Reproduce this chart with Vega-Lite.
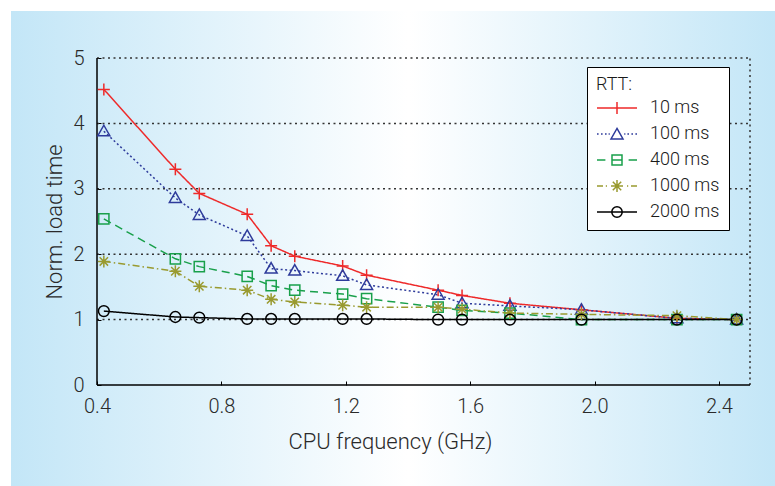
{
  "$schema": "https://vega.github.io/schema/vega-lite/v6.json",
  "width": 764,
  "height": 475,
  "autosize": {"type": "none"},
  "padding": {"left": 11, "top": 11, "right": 0, "bottom": 0},
  "background": "white",
  "view": {
    "stroke": null,
    "fill": {"gradient": "linear", "x1": 0, "y1": 0, "x2": 1, "y2": 0,
      "stops": [{"offset": 0, "color": "#c3e6f7"}, {"offset": 0.52, "color": "#ffffff"}, {"offset": 1, "color": "#c3e6f7"}]}
  },
  "config": {
    "font": "Roboto",
    "axis": {"labelFont": "Roboto", "labelFontWeight": 300, "labelFontSize": 20, "labelColor": "#2a2a2a", "titleFont": "Roboto", "titleFontWeight": 300, "titleFontSize": 22, "titleColor": "#2a2a2a"},
    "legend": {"labelFont": "Roboto", "labelFontWeight": 300, "titleFont": "Roboto", "titleFontWeight": 300}
  },
  "resolve": {"scale": {"shape": "independent", "color": "independent"}},
  "datasets": {
    "perf": [
      {"ghz": 0.422, "rtt": "10 ms", "t": 4.52}, {"ghz": 0.652, "rtt": "10 ms", "t": 3.30}, {"ghz": 0.729, "rtt": "10 ms", "t": 2.93}, {"ghz": 0.883, "rtt": "10 ms", "t": 2.61}, {"ghz": 0.960, "rtt": "10 ms", "t": 2.13}, {"ghz": 1.036, "rtt": "10 ms", "t": 1.97}, {"ghz": 1.190, "rtt": "10 ms", "t": 1.82}, {"ghz": 1.267, "rtt": "10 ms", "t": 1.68}, {"ghz": 1.497, "rtt": "10 ms", "t": 1.45}, {"ghz": 1.574, "rtt": "10 ms", "t": 1.37}, {"ghz": 1.728, "rtt": "10 ms", "t": 1.25}, {"ghz": 1.958, "rtt": "10 ms", "t": 1.15}, {"ghz": 2.265, "rtt": "10 ms", "t": 1.02}, {"ghz": 2.457, "rtt": "10 ms", "t": 1.00},
      {"ghz": 0.422, "rtt": "100 ms", "t": 3.88}, {"ghz": 0.652, "rtt": "100 ms", "t": 2.86}, {"ghz": 0.729, "rtt": "100 ms", "t": 2.60}, {"ghz": 0.883, "rtt": "100 ms", "t": 2.28}, {"ghz": 0.960, "rtt": "100 ms", "t": 1.78}, {"ghz": 1.036, "rtt": "100 ms", "t": 1.75}, {"ghz": 1.190, "rtt": "100 ms", "t": 1.67}, {"ghz": 1.267, "rtt": "100 ms", "t": 1.53}, {"ghz": 1.497, "rtt": "100 ms", "t": 1.38}, {"ghz": 1.574, "rtt": "100 ms", "t": 1.25}, {"ghz": 1.728, "rtt": "100 ms", "t": 1.21}, {"ghz": 1.958, "rtt": "100 ms", "t": 1.15}, {"ghz": 2.265, "rtt": "100 ms", "t": 1.02}, {"ghz": 2.457, "rtt": "100 ms", "t": 1.00},
      {"ghz": 0.422, "rtt": "400 ms", "t": 2.54}, {"ghz": 0.652, "rtt": "400 ms", "t": 1.93}, {"ghz": 0.729, "rtt": "400 ms", "t": 1.81}, {"ghz": 0.883, "rtt": "400 ms", "t": 1.66}, {"ghz": 0.960, "rtt": "400 ms", "t": 1.52}, {"ghz": 1.036, "rtt": "400 ms", "t": 1.45}, {"ghz": 1.190, "rtt": "400 ms", "t": 1.39}, {"ghz": 1.267, "rtt": "400 ms", "t": 1.32}, {"ghz": 1.497, "rtt": "400 ms", "t": 1.19}, {"ghz": 1.574, "rtt": "400 ms", "t": 1.14}, {"ghz": 1.728, "rtt": "400 ms", "t": 1.10}, {"ghz": 1.958, "rtt": "400 ms", "t": 1.00}, {"ghz": 2.265, "rtt": "400 ms", "t": 1.00}, {"ghz": 2.457, "rtt": "400 ms", "t": 1.00},
      {"ghz": 0.422, "rtt": "1000 ms", "t": 1.89}, {"ghz": 0.652, "rtt": "1000 ms", "t": 1.74}, {"ghz": 0.729, "rtt": "1000 ms", "t": 1.51}, {"ghz": 0.883, "rtt": "1000 ms", "t": 1.45}, {"ghz": 0.960, "rtt": "1000 ms", "t": 1.31}, {"ghz": 1.036, "rtt": "1000 ms", "t": 1.27}, {"ghz": 1.190, "rtt": "1000 ms", "t": 1.22}, {"ghz": 1.267, "rtt": "1000 ms", "t": 1.19}, {"ghz": 1.497, "rtt": "1000 ms", "t": 1.19}, {"ghz": 1.574, "rtt": "1000 ms", "t": 1.16}, {"ghz": 1.728, "rtt": "1000 ms", "t": 1.10}, {"ghz": 1.958, "rtt": "1000 ms", "t": 1.08}, {"ghz": 2.265, "rtt": "1000 ms", "t": 1.06}, {"ghz": 2.457, "rtt": "1000 ms", "t": 1.00},
      {"ghz": 0.422, "rtt": "2000 ms", "t": 1.13}, {"ghz": 0.652, "rtt": "2000 ms", "t": 1.04}, {"ghz": 0.729, "rtt": "2000 ms", "t": 1.03}, {"ghz": 0.883, "rtt": "2000 ms", "t": 1.01}, {"ghz": 0.960, "rtt": "2000 ms", "t": 1.01}, {"ghz": 1.036, "rtt": "2000 ms", "t": 1.01}, {"ghz": 1.190, "rtt": "2000 ms", "t": 1.01}, {"ghz": 1.267, "rtt": "2000 ms", "t": 1.01}, {"ghz": 1.497, "rtt": "2000 ms", "t": 1.00}, {"ghz": 1.574, "rtt": "2000 ms", "t": 1.00}, {"ghz": 1.728, "rtt": "2000 ms", "t": 1.00}, {"ghz": 1.958, "rtt": "2000 ms", "t": 1.00}, {"ghz": 2.265, "rtt": "2000 ms", "t": 1.00}, {"ghz": 2.457, "rtt": "2000 ms", "t": 1.00}
    ]
  },
  "layer": [
    {
      "data": {"values": [{"t": 1}, {"t": 2}, {"t": 3}, {"t": 4}, {"t": 5}]},
      "mark": {"type": "rule", "color": "#333333", "strokeDash": [2, 3.5], "strokeWidth": 1.5},
      "encoding": {
        "y": {"field": "t", "type": "quantitative", "scale": {"domain": [-1.5443, 5.7187], "nice": false, "zero": false}},
        "x": {"datum": 0.4, "type": "quantitative", "scale": {"domain": [0.12343, 2.5804], "nice": false, "zero": false}},
        "x2": {"datum": 2.5}
      }
    },
    {
      "data": {"values": [{}]},
      "mark": {"type": "rule", "color": "#333333", "strokeDash": [2, 3.5], "strokeWidth": 1.5},
      "encoding": {
        "x": {"datum": 2.5, "type": "quantitative", "scale": {"domain": [0.12343, 2.5804], "nice": false, "zero": false}},
        "y": {"datum": 0, "type": "quantitative", "scale": {"domain": [-1.5443, 5.7187], "nice": false, "zero": false}},
        "y2": {"datum": 5}
      }
    },
    {
      "data": {"values": [{}]},
      "mark": {"type": "rule", "color": "#000000", "strokeWidth": 1.5},
      "encoding": {
        "x": {"datum": 0.4, "type": "quantitative", "scale": {"domain": [0.12343, 2.5804], "nice": false, "zero": false}},
        "y": {"datum": 0, "type": "quantitative", "scale": {"domain": [-1.5443, 5.7187], "nice": false, "zero": false}},
        "y2": {"datum": 5}
      }
    },
    {
      "data": {"values": [{}]},
      "mark": {"type": "rule", "color": "#000000", "strokeWidth": 1.5},
      "encoding": {
        "y": {"datum": 0, "type": "quantitative", "scale": {"domain": [-1.5443, 5.7187], "nice": false, "zero": false}},
        "x": {"datum": 0.4, "type": "quantitative", "scale": {"domain": [0.12343, 2.5804], "nice": false, "zero": false}},
        "x2": {"datum": 2.5}
      }
    },
    {
      "data": {"name": "perf"},
      "mark": {"type": "line", "strokeWidth": 1.5},
      "encoding": {
        "x": {"field": "ghz", "type": "quantitative",
          "scale": {"domain": [0.12343, 2.5804], "nice": false, "zero": false},
          "axis": {"values": [0.4, 0.8, 1.2, 1.6, 2.0, 2.4], "format": ".1f", "offset": -101, "domain": false, "grid": false, "ticks": true, "tickSize": -4, "tickColor": "#000000", "tickWidth": 1, "labelPadding": 15, "labelFlush": false, "labelOverlap": false,
            "title": "CPU frequency (GHz)", "titleX": 379, "titleY": 56, "titleAlign": "center", "titleBaseline": "middle"}},
        "y": {"field": "t", "type": "quantitative",
          "scale": {"domain": [-1.5443, 5.7187], "nice": false, "zero": false},
          "axis": {"values": [0, 1, 2, 3, 4, 5], "format": "d", "offset": -86, "domain": false, "grid": false, "ticks": true, "tickSize": -4, "tickColor": "#000000", "tickWidth": 1, "labelPadding": 17, "labelFlush": false, "labelOverlap": false,
            "title": "Norm. load time", "titleX": -43, "titleY": 210.5, "titleAngle": -90, "titleAlign": "center", "titleBaseline": "middle"}},
        "color": {"field": "rtt", "type": "nominal",
          "scale": {"domain": ["10 ms", "100 ms", "400 ms", "1000 ms", "2000 ms"], "range": ["#ee2a2a", "#2e3b9b", "#19a04b", "#999a2f", "#000000"]},
          "legend": null},
        "strokeDash": {"field": "rtt", "type": "nominal",
          "scale": {"domain": ["10 ms", "100 ms", "400 ms", "1000 ms", "2000 ms"], "range": [[1, 0], [2, 2.5], [8, 5], [7, 3, 1.5, 3], [1, 0]]},
          "legend": null}
      }
    },
    {
      "data": {"name": "perf"},
      "mark": {"type": "point", "filled": false, "strokeWidth": 1.5, "size": 144, "opacity": 1},
      "encoding": {
        "x": {"field": "ghz", "type": "quantitative", "scale": {"domain": [0.12343, 2.5804], "nice": false, "zero": false}},
        "y": {"field": "t", "type": "quantitative", "scale": {"domain": [-1.5443, 5.7187], "nice": false, "zero": false}},
        "color": {"field": "rtt", "type": "nominal", "scale": {"domain": ["10 ms", "100 ms", "400 ms", "1000 ms", "2000 ms"], "range": ["#ee2a2a", "#2e3b9b", "#19a04b", "#999a2f", "#000000"]}, "legend": null},
        "shape": {"field": "rtt", "type": "nominal",
          "scale": {"domain": ["10 ms", "100 ms", "400 ms", "1000 ms", "2000 ms"],
            "range": ["M-1,0L1,0M0,-1L0,1", "M0,-1L1,0.75L-1,0.75Z", "M-0.85,-0.85L0.85,-0.85L0.85,0.85L-0.85,0.85Z", "M-1,0L1,0M0,-1L0,1M-0.7,-0.7L0.7,0.7M-0.7,0.7L0.7,-0.7", "M-0.9,0A0.9,0.9,0,1,1,0.9,0A0.9,0.9,0,1,1,-0.9,0Z"]},
          "legend": null}
      }
    },
    {
      "data": {"name": "perf"},
      "transform": [{"filter": "false"}],
      "mark": {"type": "point", "filled": false, "strokeWidth": 1.5, "size": 1600, "opacity": 1},
      "encoding": {
        "color": {"field": "rtt", "type": "nominal",
          "scale": {"domain": ["10 ms", "100 ms", "400 ms", "1000 ms", "2000 ms"], "range": ["#ee2a2a", "#2e3b9b", "#19a04b", "#999a2f", "#000000"]},
          "legend": {"title": "RTT:", "orient": "none", "legendX": 576, "legendY": 56, "direction": "vertical",
            "symbolSize": 1600, "symbolStrokeWidth": 1.5, "labelOffset": 12, "padding": 9, "titlePadding": 6, "rowPadding": 8, "clipHeight": 16,
            "strokeColor": "#000000", "fillColor": "#ffffff", "cornerRadius": 0, "labelFontSize": 18, "titleFontSize": 18, "labelColor": "#1a1a1a", "titleColor": "#1a1a1a"}},
        "shape": {"field": "rtt", "type": "nominal",
          "scale": {"domain": ["10 ms", "100 ms", "400 ms", "1000 ms", "2000 ms"],
            "range": [
              "M-1,0L1,0M0,-0.3L0,0.3",
              "M-1,0L-0.92,0M-0.8,0L-0.72,0M-0.6,0L-0.52,0M-0.42,0L-0.36,0M0.36,0L0.42,0M0.52,0L0.6,0M0.72,0L0.8,0M0.92,0L1,0M0,-0.28L0.3,0.25L-0.3,0.25Z",
              "M-1,0L-0.58,0M-0.25,0L0.25,0M0.58,0L1,0M-0.25,-0.25L0.25,-0.25L0.25,0.25L-0.25,0.25Z",
              "M-1,0L-0.7,0M-0.56,0L-0.5,0M0.5,0L0.56,0M0.7,0L1,0M-0.3,0L0.3,0M0,-0.3L0,0.3M-0.21,-0.21L0.21,0.21M-0.21,0.21L0.21,-0.21",
              "M-1,0L1,0M-0.26,0A0.26,0.26,0,1,1,0.26,0A0.26,0.26,0,1,1,-0.26,0Z"]},
          "legend": {"title": "RTT:", "orient": "none", "legendX": 576, "legendY": 56, "direction": "vertical",
            "symbolSize": 1600, "symbolStrokeWidth": 1.5, "labelOffset": 12, "padding": 9, "titlePadding": 6, "rowPadding": 8, "clipHeight": 16,
            "strokeColor": "#000000", "fillColor": "#ffffff", "cornerRadius": 0, "labelFontSize": 18, "titleFontSize": 18, "labelColor": "#1a1a1a", "titleColor": "#1a1a1a"}}
      }
    }
  ]
}
